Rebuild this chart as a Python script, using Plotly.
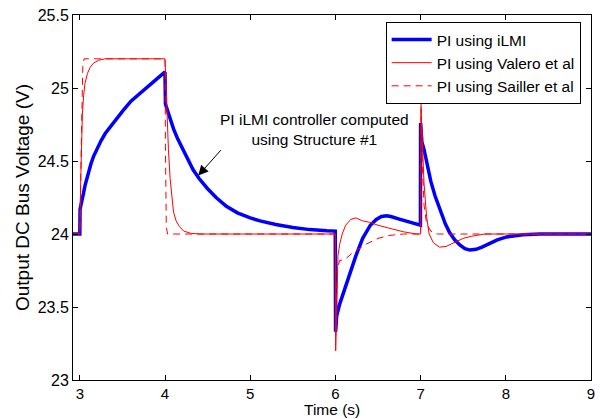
import plotly.graph_objects as go

# ---- data ----
t_ilmi = [2.92, 3.0, 3.003, 3.02, 3.04, 3.06, 3.08, 3.1, 3.13, 3.16, 3.2, 3.25, 3.3, 3.35, 3.4,
          3.5, 3.6, 3.7, 3.8, 3.9, 4.0,
          4.005, 4.03, 4.06, 4.1, 4.15, 4.2, 4.27, 4.33, 4.4, 4.5, 4.6, 4.72, 4.85, 5.0, 5.115,
          5.3, 5.5, 5.7, 5.9, 5.998,
          6.002, 6.015, 6.05, 6.11, 6.17, 6.24, 6.32, 6.41, 6.48, 6.54, 6.6, 6.65, 6.76, 6.88, 6.998,
          7.0, 7.015, 7.04, 7.08, 7.12, 7.17, 7.23, 7.29, 7.34, 7.4, 7.46, 7.52, 7.58, 7.65, 7.72,
          7.8, 7.9, 8.01, 8.2, 8.4, 9.0]
v_ilmi = [24.0, 24.0, 24.17, 24.21, 24.27, 24.33, 24.38, 24.42, 24.48, 24.53, 24.58, 24.64, 24.69, 24.73, 24.77,
          24.84, 24.91, 24.96, 25.01, 25.06, 25.11,
          24.89, 24.84, 24.79, 24.72, 24.65, 24.59, 24.51, 24.44, 24.38, 24.31, 24.25, 24.19, 24.145, 24.11, 24.09,
          24.065, 24.045, 24.03, 24.022, 24.02,
          23.33, 23.44, 23.52, 23.63, 23.73, 23.85, 23.97, 24.06, 24.10, 24.12, 24.125, 24.12, 24.10, 24.08, 24.06,
          24.76, 24.63, 24.58, 24.47, 24.36, 24.26, 24.16, 24.07, 24.01, 23.96, 23.925, 23.90, 23.89, 23.895, 23.91,
          23.935, 23.96, 23.98, 23.995, 24.0, 24.0]

t_valero = [2.92, 3.0, 3.01, 3.02, 3.03, 3.045, 3.06, 3.09, 3.12, 3.16, 3.22, 3.3, 4.0,
            4.01, 4.025, 4.04, 4.06, 4.08, 4.1, 4.13, 4.17, 4.22, 4.3, 4.4, 6.0,
            6.003, 6.015, 6.03, 6.05, 6.08, 6.12, 6.18, 6.24, 6.32, 6.4, 6.5, 6.63, 6.8, 6.95, 7.0,
            7.005, 7.02, 7.04, 7.07, 7.1, 7.15, 7.22, 7.3, 7.4, 7.5, 7.6, 7.75, 9.0]
v_valero = [24.0, 24.0, 24.35, 24.65, 24.82, 24.95, 25.03, 25.10, 25.14, 25.17, 25.19, 25.2, 25.2,
            25.05, 24.8, 24.58, 24.38, 24.24, 24.15, 24.09, 24.05, 24.02, 24.005, 24.0, 24.0,
            23.2, 23.6, 23.85, 23.93, 24.0, 24.06, 24.1, 24.11, 24.09, 24.08, 24.06, 24.04, 24.015, 24.0, 24.0,
            24.85, 24.6, 24.35, 24.12, 24.0, 23.94, 23.91, 23.915, 23.94, 23.97, 23.985, 24.0, 24.0]

t_sailler = [2.92, 3.0, 3.02, 3.035, 3.05, 4.0, 4.005, 4.015, 4.03, 6.0,
             6.003, 6.02, 6.05, 6.08, 6.12, 6.2, 6.36, 6.5, 6.63, 6.8, 7.0,
             7.005, 7.02, 7.04, 7.07, 7.12, 7.2, 9.0]
v_sailler = [24.0, 24.0, 24.7, 25.15, 25.2, 25.2, 24.6, 24.05, 24.0, 24.0,
             23.3, 23.75, 23.82, 23.82, 23.83, 23.87, 23.93, 23.97, 23.99, 24.0, 24.0,
             24.9, 24.5, 24.2, 24.07, 24.02, 24.0, 24.0]

x_ticks = [3, 4, 5, 6, 7, 8, 9]
y_ticks = [23, 23.5, 24, 24.5, 25, 25.5]

FONT = "Liberation Sans, Arial, sans-serif"
FS = 16

fig = go.Figure()
fig.add_trace(go.Scatter(x=t_ilmi, y=v_ilmi, mode="lines", name="PI using iLMI",
                         line=dict(color="#0000ff", width=3.5)))
fig.add_trace(go.Scatter(x=t_valero, y=v_valero, mode="lines", name="PI using Valero et al",
                         line=dict(color="#ff0000", width=1)))
fig.add_trace(go.Scatter(x=t_sailler, y=v_sailler, mode="lines", name="PI using Sailler et al",
                         line=dict(color="#ff0000", width=1, dash="7px,5px")))

axis_common = dict(showline=True, linecolor="black", linewidth=1, mirror="ticks",
                   ticks="inside", ticklen=5, tickcolor="black", showgrid=False,
                   zeroline=False, automargin=False)

fig.update_xaxes(range=[2.92, 9.0], tickvals=x_ticks, ticktext=[str(v) for v in x_ticks],
                 tickfont=dict(size=15, color="black", family=FONT),
                 **axis_common)
fig.update_yaxes(range=[23, 25.5], tickvals=y_ticks, ticktext=[f"{v:g}" for v in y_ticks],
                 tickfont=dict(size=FS, color="black", family=FONT),
                 title=dict(text="Output DC Bus Voltage (V)", font=dict(size=19, color="black", family=FONT), standoff=3),
                 **axis_common)

# x-axis title placed as paper annotation for exact vertical position
fig.add_annotation(x=0.5, y=-0.08, xref="paper", yref="paper", text="Time (s)",
                   showarrow=False, xanchor="center", yanchor="middle",
                   font=dict(size=15.5, color="black", family=FONT))

fig.add_annotation(x=4.39, y=24.40, xref="x", yref="y", text="", showarrow=True,
                   ax=24, ay=-27, arrowhead=2, arrowsize=2, arrowwidth=1, arrowcolor="black")
fig.add_annotation(x=5.75, y=24.715, xref="x", yref="y",
                   text="PI iLMI controller computed<br>using Structure #1", showarrow=False,
                   font=dict(size=15.5, color="black", family=FONT), align="center")

fig.update_layout(
    width=603, height=419,
    margin=dict(l=73, r=12, t=15, b=39, autoexpand=False),
    paper_bgcolor="white", plot_bgcolor="white",
    font=dict(family=FONT, size=FS, color="black"),
    showlegend=True,
    legend=dict(x=0.98, y=0.981, xanchor="right", yanchor="top",
                bgcolor="white", bordercolor="black", borderwidth=1,
                font=dict(size=15.5, color="black", family=FONT),
                tracegroupgap=0, itemwidth=40),
)

fig.write_html("out.html",
               config={"displayModeBar": False},
               post_script="document.documentElement.style.margin='0';"
                           "document.body.style.margin='0';"
                           "document.body.style.overflow='hidden';")
